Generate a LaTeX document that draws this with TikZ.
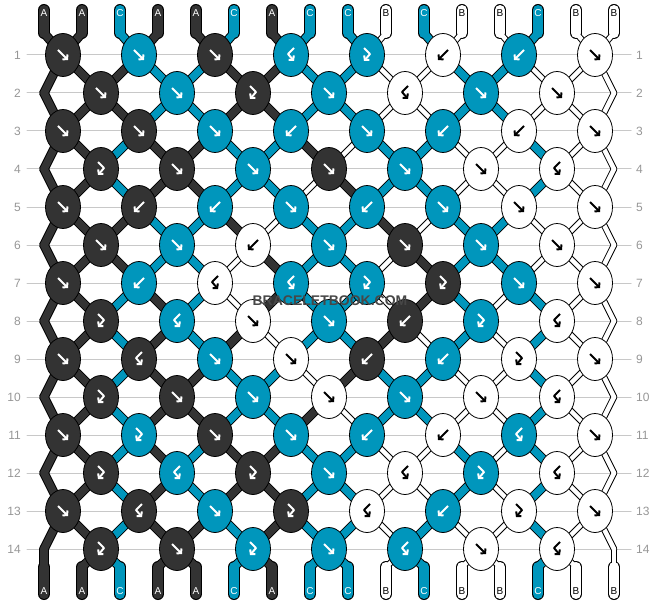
\documentclass[tikz,border=0pt]{standalone}
\usepackage{fontspec}
\setmainfont{Liberation Sans}
\usetikzlibrary{shapes.geometric,arrows.meta}
\definecolor{mydark}{RGB}{51,51,51}
\definecolor{myteal}{RGB}{0,150,188}
\definecolor{mygray}{RGB}{150,150,150}
\definecolor{mylight}{RGB}{200,200,200}
% string colours after each row, knots of each row (type/colour)
\newcommand{\defrow}[3]{\expandafter\def\csname st#1\endcsname{#2}\expandafter\def\csname kn#1\endcsname{#3}}
\defrow{0}{A,A,C,A,A,C,A,C,C,B,C,B,B,C,B,B}{}
\defrow{1}{A,A,A,C,C,A,A,C,C,B,B,C,C,B,B,B}{f/A,f/C,f/A,bf/C,fb/C,b/B,b/C,f/B}
\defrow{2}{A,A,A,C,C,A,A,C,C,B,B,C,C,B,B,B}{f/A,f/C,fb/A,f/C,bf/B,f/C,f/B}
\defrow{3}{A,A,C,A,A,C,C,A,B,C,C,B,B,C,B,B}{f/A,f/A,f/C,b/C,f/C,b/C,b/B,f/B}
\defrow{4}{A,A,C,A,A,C,C,B,A,C,C,B,B,C,B,B}{fb/A,f/A,f/C,f/A,f/C,f/B,bf/B}
\defrow{5}{A,A,A,C,C,A,B,C,C,A,B,C,C,B,B,B}{f/A,b/A,b/C,f/C,b/C,f/C,f/B,f/B}
\defrow{6}{A,A,A,C,C,B,A,C,C,B,A,C,C,B,B,B}{f/A,f/C,b/B,f/C,f/A,f/C,f/B}
\defrow{7}{A,A,C,A,C,B,A,C,C,B,A,C,B,C,B,B}{f/A,b/C,bf/B,bf/C,fb/C,fb/A,f/C,f/B}
\defrow{8}{A,A,C,A,C,A,B,C,C,A,B,C,B,C,B,B}{fb/A,bf/C,f/B,f/C,b/A,fb/C,bf/B}
\defrow{9}{A,A,C,A,A,C,C,B,A,C,C,B,B,C,B,B}{f/A,bf/A,f/C,f/B,b/A,b/C,fb/B,f/B}
\defrow{10}{A,A,C,A,A,C,C,A,B,C,C,B,B,C,B,B}{fb/A,f/A,f/C,f/B,f/C,f/B,bf/B}
\defrow{11}{A,A,C,A,C,A,A,C,C,B,B,C,B,C,B,B}{f/A,fb/C,f/A,f/C,b/C,b/B,bf/C,f/B}
\defrow{12}{A,A,C,A,C,A,A,C,C,B,B,C,B,C,B,B}{fb/A,bf/C,fb/A,f/C,bf/B,fb/C,bf/B}
\defrow{13}{A,A,C,A,A,C,A,C,C,B,C,B,B,C,B,B}{f/A,bf/A,f/C,fb/A,bf/B,b/C,fb/B,f/B}
\defrow{14}{A,A,C,A,A,C,A,C,C,B,C,B,B,C,B,B}{fb/A,f/A,fb/C,f/C,bf/C,f/B,bf/B}
% all string pieces, drawn with the styles <#1>A, <#1>B, <#1>C
\newcommand{\strings}[1]{%
  \foreach \r in {0,...,14} {
    \pgfmathtruncatemacro\rn{\r+1}
    \edef\strow{\csname st\r\endcsname}
    \foreach \col [count=\i] in \strow {
      \draw[#1\col] (p-\r-\i) -- (p-\rn-\i);
    }
  }
  \edef\strow{\csname st0\endcsname}
  \foreach \col [count=\i] in \strow {\draw[#1\col, #1end] (t-\i) -- (p-0-\i);}
  \edef\strow{\csname st14\endcsname}
  \foreach \col [count=\i] in \strow {\draw[#1\col, #1end] (p-15-\i) -- (e-\i);}
}

\begin{document}
\begin{tikzpicture}[x=1pt, y=-1pt, line cap=round, line join=round,
    rimA/.style={draw=black, line width=9.5pt},
    rimC/.style={draw=black, line width=9.5pt},
    rimB/.style={draw=black, line width=6.5pt},
    strA/.style={draw=mydark, line width=7.5pt},
    strC/.style={draw=myteal, line width=7.5pt},
    strB/.style={draw=white, line width=4.5pt},
    rimend/.style={line width=12pt},
    strend/.style={line width=10pt},
    knot/.style={ellipse, draw=black, line width=0.8pt, minimum width=35pt, minimum height=43pt, inner sep=0pt},
    knA/.style={fill=mydark}, knB/.style={fill=white}, knC/.style={fill=myteal},
    inkA/.style={color=white}, inkB/.style={color=black}, inkC/.style={color=white},
    labA/.style={text=white}, labB/.style={text=black}, labC/.style={text=white},
    lab/.style={font=\fontsize{10}{10}\selectfont, inner sep=0pt},
    rownum/.style={font=\fontsize{12}{12}\selectfont, text=mygray, inner sep=0pt},
    rowline/.style={draw=mylight, line width=1pt},
    wmark/.style={font=\fontsize{14}{14}\selectfont\bfseries, inner sep=0pt},
    arw/.style={line width=2pt, line cap=butt, -{Straight Barb[length=3pt,width=7pt]}},
    icof/.pic={\draw[arw] (-5,-5) -- (5,5);},
    icob/.pic={\draw[arw] (5,-5) -- (-5,5);},
    icofb/.pic={\draw[arw] (-3,-7) -- (3,-1) -- (-3,6);},
    icobf/.pic={\draw[arw] (3,-7) -- (-3,-1) -- (3,6);}]
  \useasboundingbox (0,0) rectangle (658,604);
  % string positions
  \foreach \i in {1,...,16} {
    \coordinate (t-\i) at ({44+38*(\i-1)}, 10);
    \coordinate (p-0-\i) at ({44+38*(\i-1)}, 33);
    \coordinate (p-15-\i) at ({44+38*(\i-1)}, 567);
    \coordinate (e-\i) at ({44+38*(\i-1)}, 594);
  }
  \foreach \r in {1,...,14} {
    \draw[rowline] (27,{17+38*\r}) -- (631,{17+38*\r});
    \node[rownum, anchor=east] (nl-\r) at (21,{17+38*\r}) {\r};
    \node[rownum, anchor=west] (nr-\r) at (636,{17+38*\r}) {\r};
    \foreach \i in {1,...,16} {
      \pgfmathsetmacro\dx{ifthenelse(mod(\r,2)==0 && (\i==1 || \i==16), 0, ifthenelse(mod(\r+\i,2)==0, 19, -19))}
      \coordinate (p-\r-\i) at ({44+38*(\i-1)+\dx}, {17+38*\r});
    }
  }
  % strings: black rims first, then the colours
  \strings{rim}
  \strings{str}
  \edef\strow{\csname st0\endcsname}
  \foreach \col [count=\i] in \strow {
    \node[lab, lab\col] (top-\i) at ({44+38*(\i-1)}, 13) {\col};
  }
  \edef\strow{\csname st14\endcsname}
  \foreach \col [count=\i] in \strow {
    \node[lab, lab\col] (bot-\i) at ({44+38*(\i-1)}, 591) {\col};
  }
  % knots
  \foreach \r in {1,...,14} {
    \edef\knrow{\csname kn\r\endcsname}
    \foreach \ty/\col [count=\kk] in \knrow {
      \pgfmathtruncatemacro\j{2*\kk}
      \node[knot, kn\col] (k-\r-\kk) at (p-\r-\j) {};
      \pic[ink\col] at (k-\r-\kk) {ico\ty};
    }
  }
  % watermark
  \node[wmark, text=mydark!90] (wm) at (330,301) {BRACELETBOOK.COM};
\end{tikzpicture}
\end{document}
